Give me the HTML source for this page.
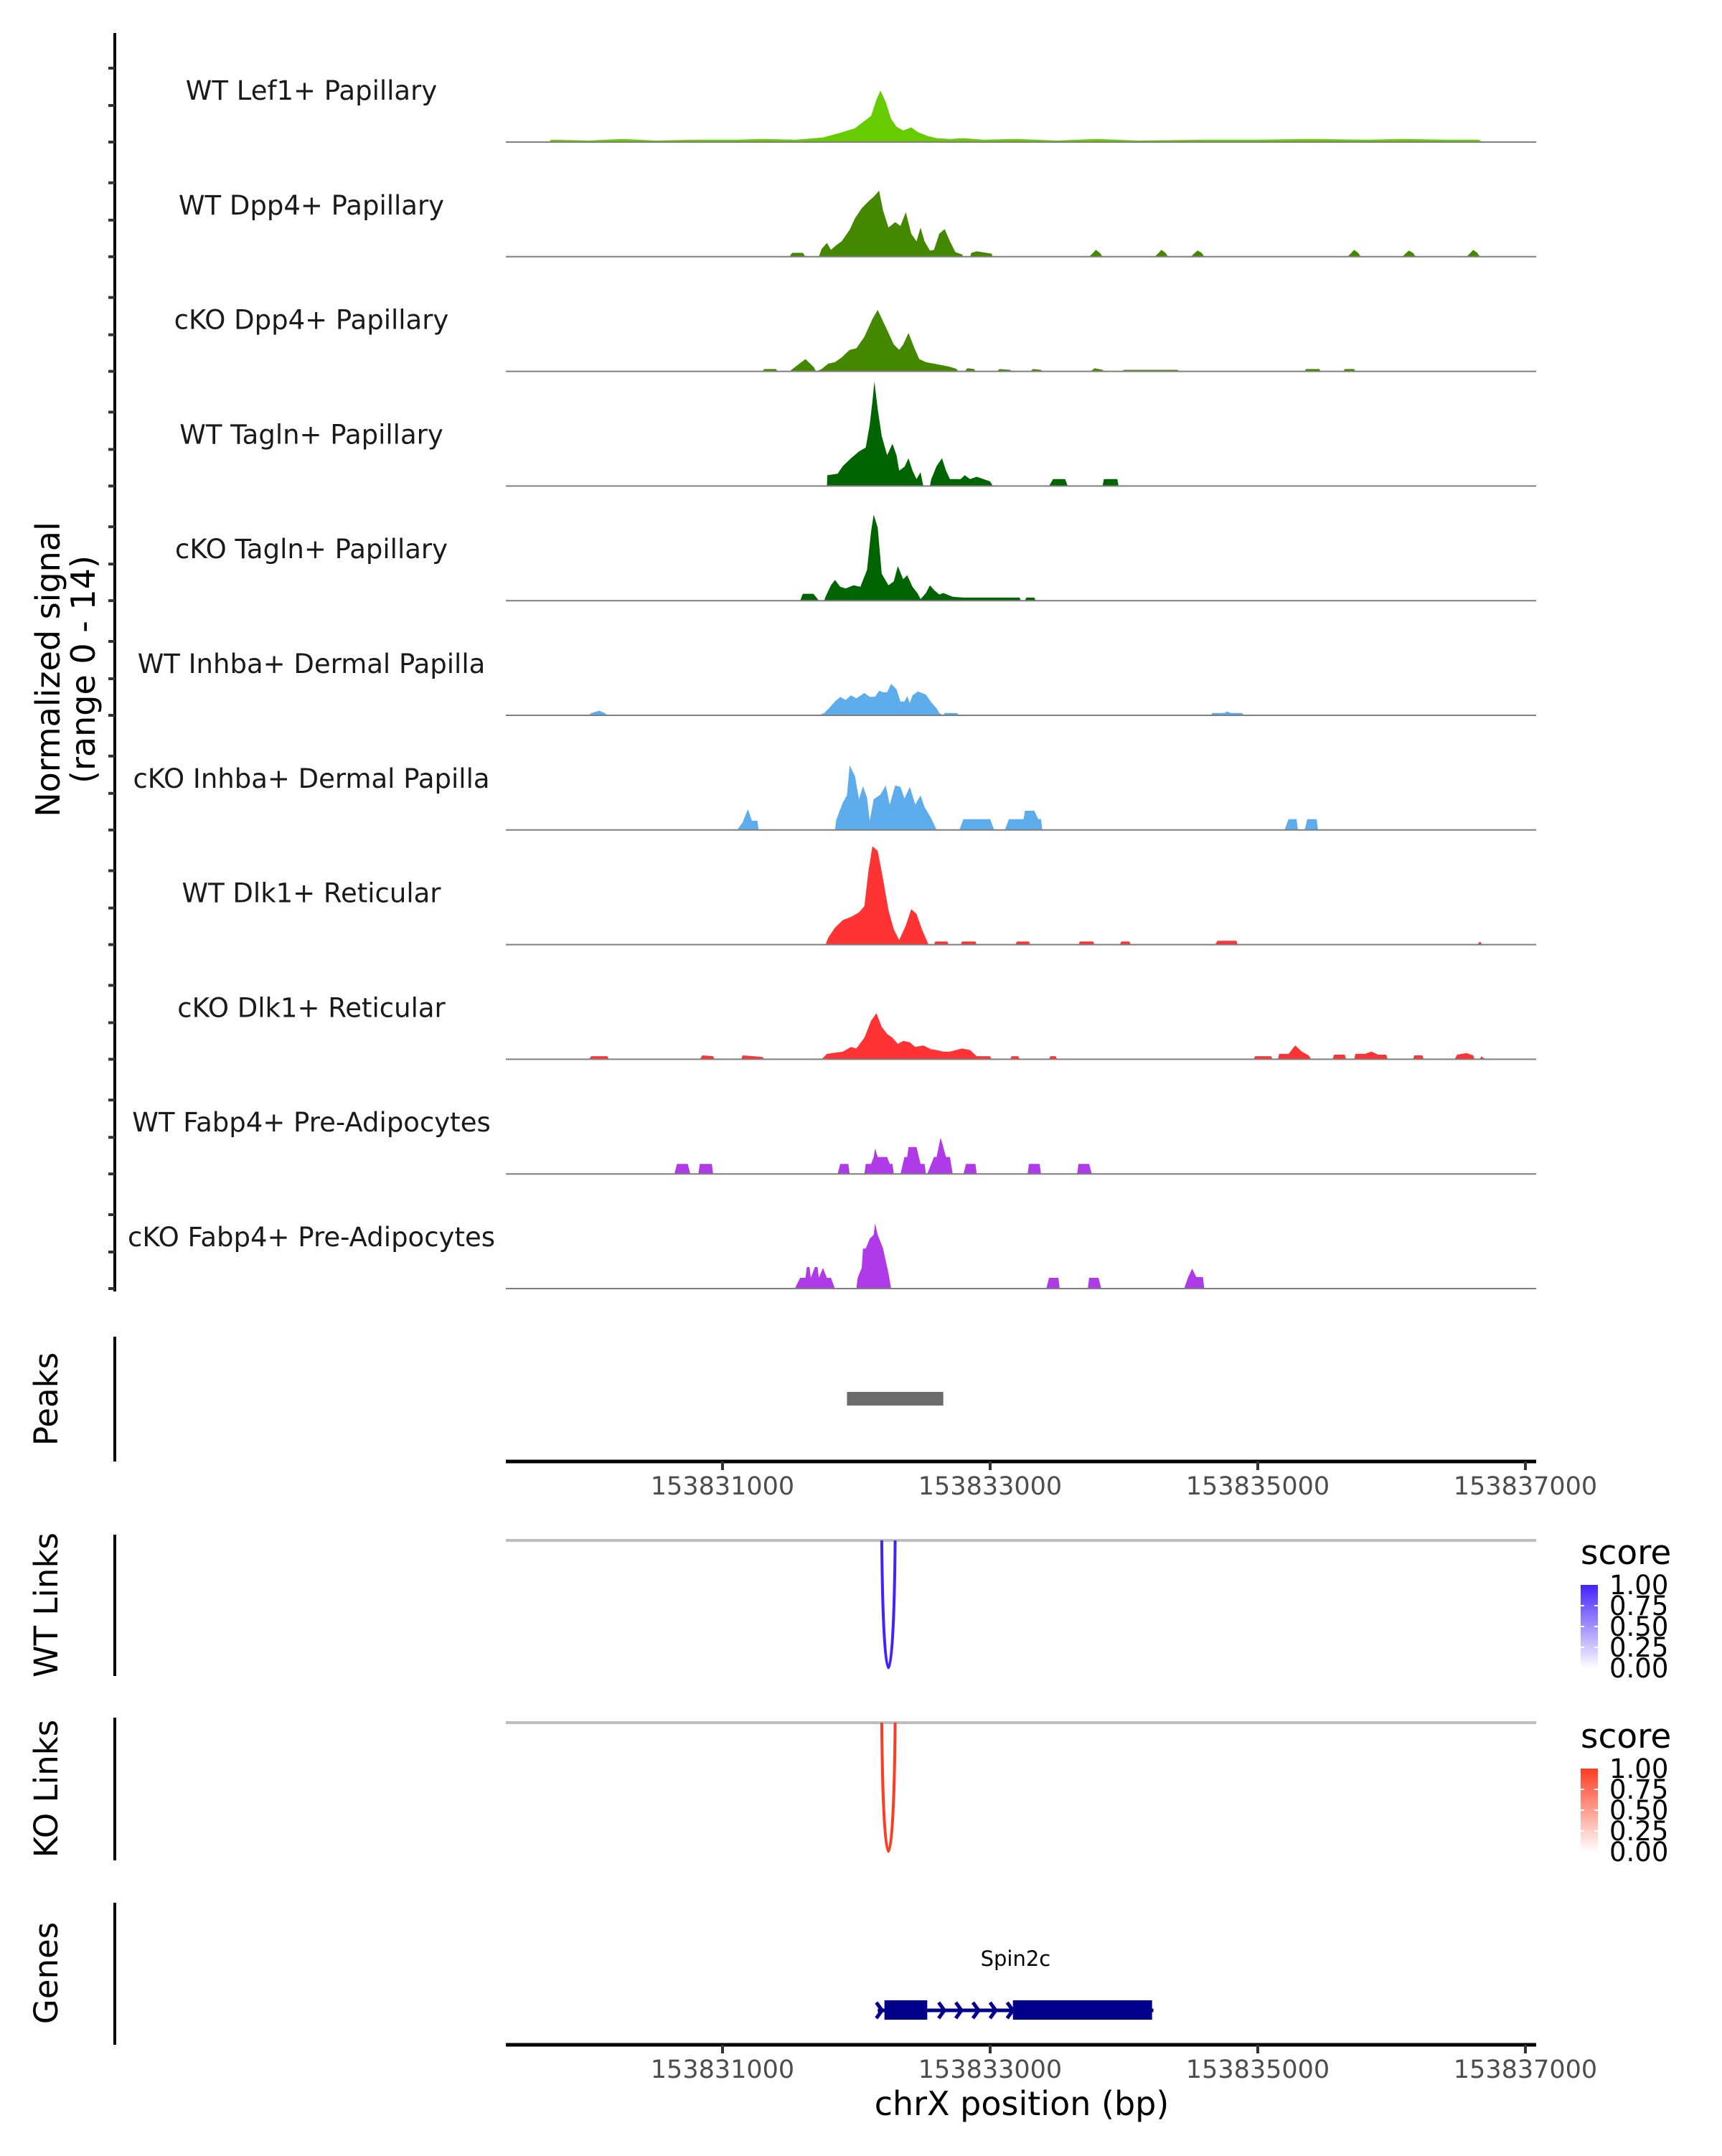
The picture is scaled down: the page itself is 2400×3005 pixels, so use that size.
<!DOCTYPE html>
<html><head><meta charset="utf-8"><style>
body{margin:0;background:#fff}
svg text{font-family:"DejaVu Sans","Liberation Sans",sans-serif}
</style></head><body>
<svg id="fig" width="2400" height="3000" viewBox="0 0 2400 3000" xmlns="http://www.w3.org/2000/svg">
<rect width="2400" height="3000" fill="#fff"/>
<g id="tracks"></g>
<g id="annot"></g>
</svg>
<script>
// ---- data ----
const trackNames = ["WT Lef1+ Papillary","WT Dpp4+ Papillary","cKO Dpp4+ Papillary","WT Tagln+ Papillary","cKO Tagln+ Papillary","WT Inhba+ Dermal Papilla","cKO Inhba+ Dermal Papilla","WT Dlk1+ Reticular","cKO Dlk1+ Reticular","WT Fabp4+ Pre-Adipocytes","cKO Fabp4+ Pre-Adipocytes"];
const trackColors = ["#66CC00","#448800","#448800","#006400","#006400","#5DADEC","#5DADEC","#FF3333","#FF3333","#AE3AE8","#AE3AE8"];
const xTicks = [153831000,153833000,153835000,153837000];
const legendTicks = [1.00,0.75,0.50,0.25,0.00];

const covWTLef1 = [[153829700,0],[153829720,0.3],[153830000,0.2],[153830250,0.4],[153830500,0.2],[153830800,0.3],[153831100,0.3],[153831300,0.4],[153831550,0.3],[153831750,0.6],[153831880,1.2],[153831990,1.8],[153832050,2.6],[153832110,3.4],[153832150,5.5],[153832180,6.7],[153832220,5.2],[153832260,3.0],[153832300,2.0],[153832350,1.5],[153832410,1.9],[153832460,1.3],[153832530,0.8],[153832600,0.5],[153832700,0.4],[153832800,0.5],[153832950,0.3],[153833200,0.4],[153833500,0.2],[153833800,0.4],[153834100,0.2],[153834600,0.3],[153835000,0.3],[153835400,0.4],[153835800,0.3],[153836100,0.4],[153836400,0.3],[153836650,0.3],[153836680,0]];
const covWTDpp4 = [[153831500,0],[153831520,0.5],[153831600,0.5],[153831620,0],[153831720,0],[153831740,1.0],[153831780,1.8],[153831810,0.9],[153831850,1.5],[153831890,2.0],[153831950,3.5],[153831990,5.0],[153832040,6.3],[153832090,7.2],[153832130,7.8],[153832170,8.6],[153832200,6.0],[153832240,3.8],[153832290,4.5],[153832330,4.0],[153832370,5.8],[153832410,3.0],[153832450,2.0],[153832480,3.8],[153832510,2.0],[153832550,0.8],[153832580,0.9],[153832620,3.0],[153832660,3.6],[153832700,2.0],[153832740,0.6],[153832790,0.3],[153832800,0],[153832850,0],[153832860,0.5],[153832900,0.7],[153833010,0.4],[153833020,0],[153833740,0],[153833770,0.5],[153833790,0.9],[153833820,0.5],[153833840,0],[153834230,0],[153834260,0.5],[153834280,0.9],[153834310,0.5],[153834330,0],[153834500,0],[153834530,0.5],[153834550,0.8],[153834580,0.5],[153834600,0],[153835670,0],[153835700,0.5],[153835720,0.9],[153835750,0.5],[153835770,0],[153836080,0],[153836110,0.5],[153836130,0.8],[153836160,0.5],[153836180,0],[153836560,0],[153836590,0.5],[153836610,0.9],[153836640,0.5],[153836660,0]];
const covKODpp4 = [[153831300,0],[153831310,0.3],[153831400,0.3],[153831410,0],[153831500,0],[153831560,0.8],[153831620,1.6],[153831680,0.6],[153831700,0],[153831740,0.3],[153831790,1.0],[153831840,1.2],[153831890,1.8],[153831950,2.8],[153832000,3.0],[153832060,4.5],[153832120,6.8],[153832160,8.0],[153832200,6.5],[153832240,5.0],[153832280,3.5],[153832320,2.8],[153832350,3.5],[153832390,5.0],[153832430,3.2],[153832470,1.6],[153832520,1.2],[153832580,1.0],[153832640,0.8],[153832700,0.6],[153832750,0.3],[153832760,0],[153832810,0],[153832830,0.4],[153832880,0.3],[153832890,0],[153833050,0],[153833070,0.3],[153833150,0.2],[153833160,0],[153833300,0],[153833320,0.3],[153833380,0.2],[153833390,0],[153833750,0],[153833780,0.4],[153833840,0.2],[153833850,0],[153833980,0],[153834000,0.2],[153834400,0.2],[153834410,0],[153835350,0],[153835360,0.3],[153835460,0.3],[153835470,0],[153835640,0],[153835650,0.3],[153835720,0.3],[153835730,0]];
const covWTTagln = [[153831780,0],[153831783,1.4],[153831860,1.6],[153831900,2.6],[153831960,3.6],[153832020,4.5],[153832070,5.0],[153832100,8.0],[153832120,11.0],[153832135,13.6],[153832160,10.0],[153832190,6.5],[153832230,4.0],[153832270,5.5],[153832300,4.0],[153832320,2.0],[153832360,2.5],[153832390,3.6],[153832420,2.0],[153832450,0.9],[153832480,1.8],[153832500,0],[153832550,0],[153832560,0.9],[153832600,2.6],[153832640,3.6],[153832670,2.0],[153832700,0.9],[153832780,0.9],[153832810,1.4],[153832850,0.9],[153832900,1.2],[153833000,0.6],[153833020,0],[153833440,0],[153833470,0.9],[153833560,0.9],[153833580,0],[153833840,0],[153833850,0.9],[153833950,0.9],[153833960,0]];
const covKOTagln = [[153831580,0],[153831600,0.9],[153831680,0.9],[153831720,0],[153831760,0],[153831770,0.5],[153831810,2.0],[153831840,2.7],[153831880,1.8],[153831920,1.6],[153831980,2.0],[153832030,1.8],[153832080,4.0],[153832110,9.0],[153832130,11.2],[153832160,9.5],[153832190,3.5],[153832240,2.0],[153832280,2.5],[153832310,4.5],[153832350,2.8],[153832380,3.3],[153832420,1.8],[153832460,0.9],[153832480,0.2],[153832520,1.0],[153832550,2.0],[153832580,1.4],[153832620,0.8],[153832650,1.0],[153832720,0.5],[153832800,0.4],[153833000,0.4],[153833220,0.4],[153833230,0],[153833260,0],[153833270,0.4],[153833330,0.4],[153833340,0]];
const covWTInhba = [[153830000,0],[153830020,0.3],[153830080,0.6],[153830120,0.3],[153830140,0],[153831720,0],[153831760,0.3],[153831800,1.0],[153831840,1.8],[153831880,2.4],[153831920,2.0],[153831960,2.6],[153832000,2.2],[153832060,2.9],[153832100,2.4],[153832140,2.4],[153832170,3.2],[153832200,3.0],[153832230,3.0],[153832260,4.1],[153832300,3.4],[153832330,1.8],[153832360,1.8],[153832380,2.5],[153832400,1.6],[153832420,2.6],[153832460,3.1],[153832520,2.7],[153832560,1.7],[153832600,0.9],[153832620,0.3],[153832650,0],[153832660,0.3],[153832750,0.3],[153832770,0],[153834650,0],[153834660,0.3],[153834750,0.3],[153834770,0.5],[153834800,0.3],[153834880,0.3],[153834900,0]];
const covKOInhba = [[153831110,0],[153831150,1.0],[153831190,2.7],[153831220,1.2],[153831260,1.2],[153831270,0],[153831840,0],[153831850,1.3],[153831900,3.6],[153831930,4.5],[153831950,8.4],[153831990,7.0],[153832020,4.0],[153832050,5.7],[153832080,4.2],[153832100,1.2],[153832130,4.0],[153832180,4.6],[153832220,5.8],[153832250,3.3],[153832290,5.8],[153832330,5.6],[153832360,4.1],[153832400,5.6],[153832440,3.3],[153832480,4.5],[153832510,3.0],[153832560,1.5],[153832600,0],[153832770,0],[153832800,1.4],[153833000,1.4],[153833030,0],[153833110,0],[153833140,1.4],[153833250,1.4],[153833260,2.5],[153833330,2.5],[153833360,1.4],[153833380,1.4],[153833390,0],[153835200,0],[153835230,1.4],[153835290,1.4],[153835300,0],[153835350,0],[153835370,1.4],[153835440,1.4],[153835450,0]];
const covWTDlk1 = [[153831770,0],[153831790,0.9],[153831840,2.2],[153831900,3.2],[153831960,3.6],[153832020,4.2],[153832060,5.0],[153832090,9.5],[153832120,12.8],[153832160,12.2],[153832200,8.5],[153832240,4.5],[153832280,2.0],[153832320,0.6],[153832370,2.5],[153832410,4.6],[153832450,4.0],[153832490,2.0],[153832530,0.4],[153832540,0],[153832580,0],[153832590,0.4],[153832680,0.4],[153832690,0],[153832780,0],[153832790,0.4],[153832890,0.4],[153832900,0],[153833190,0],[153833200,0.4],[153833290,0.4],[153833300,0],[153833660,0],[153833670,0.4],[153833770,0.4],[153833780,0],[153833970,0],[153833980,0.4],[153834040,0.4],[153834050,0],[153834680,0],[153834700,0.5],[153834840,0.5],[153834850,0],[153836640,0],[153836660,0.4],[153836680,0]];
const covKODlk1 = [[153830000,0],[153830020,0.4],[153830140,0.4],[153830150,0],[153830830,0],[153830850,0.5],[153830930,0.4],[153830940,0],[153831140,0],[153831150,0.5],[153831230,0.4],[153831300,0.3],[153831310,0],[153831740,0],[153831780,0.7],[153831900,1.0],[153831960,1.6],[153832000,1.4],[153832060,2.8],[153832110,5.0],[153832150,6.0],[153832190,4.2],[153832230,3.3],[153832270,2.8],[153832310,2.0],[153832350,2.4],[153832400,2.2],[153832440,1.6],[153832500,1.8],[153832560,1.3],[153832600,1.2],[153832650,1.0],[153832700,1.0],[153832790,1.4],[153832850,1.2],[153832900,0.4],[153833000,0.4],[153833010,0],[153833150,0],[153833160,0.4],[153833210,0.4],[153833220,0],[153833440,0],[153833450,0.4],[153833490,0.4],[153833500,0],[153834970,0],[153834980,0.4],[153835100,0.4],[153835110,0],[153835150,0],[153835160,0.7],[153835230,0.7],[153835280,1.8],[153835330,1.0],[153835380,0.5],[153835400,0],[153835560,0],[153835570,0.6],[153835650,0.6],[153835660,0],[153835720,0],[153835730,0.7],[153835800,0.7],[153835850,1.0],[153835900,0.6],[153835960,0.6],[153835970,0],[153836160,0],[153836170,0.5],[153836230,0.5],[153836240,0],[153836470,0],[153836490,0.6],[153836560,0.8],[153836610,0.5],[153836620,0],[153836660,0],[153836670,0.4],[153836700,0]];
const covWTFabp4 = [[153830640,0],[153830660,1.3],[153830740,1.3],[153830760,0],[153830820,0],[153830830,1.3],[153830920,1.3],[153830930,0],[153831860,0],[153831880,1.3],[153831940,1.3],[153831950,0],[153832060,0],[153832070,1.3],[153832110,1.3],[153832130,2.2],[153832140,3.3],[153832160,2.2],[153832230,2.2],[153832250,1.3],[153832270,1.3],[153832280,0],[153832330,0],[153832360,2.2],[153832380,2.2],[153832390,3.5],[153832450,3.5],[153832480,1.3],[153832510,1.3],[153832520,0],[153832530,0],[153832560,1.3],[153832580,2.2],[153832600,2.2],[153832620,3.9],[153832630,4.7],[153832650,3.5],[153832670,2.2],[153832700,2.2],[153832720,0],[153832800,0],[153832820,1.3],[153832890,1.3],[153832900,0],[153833280,0],[153833290,1.3],[153833370,1.3],[153833380,0],[153833650,0],[153833660,1.3],[153833740,1.3],[153833760,0]];
const covKOFabp4 = [[153831540,0],[153831580,1.4],[153831620,1.4],[153831630,2.8],[153831650,2.8],[153831660,1.4],[153831690,2.8],[153831710,2.8],[153831720,1.4],[153831750,2.7],[153831780,1.4],[153831810,1.4],[153831840,0],[153832000,0],[153832010,1.4],[153832040,2.7],[153832050,5.2],[153832070,5.2],[153832100,6.5],[153832130,7.0],[153832140,8.5],[153832160,7.0],[153832200,5.2],[153832240,2.0],[153832260,0],[153833420,0],[153833440,1.4],[153833510,1.4],[153833520,0],[153833730,0],[153833740,1.4],[153833810,1.4],[153833830,0],[153834450,0],[153834480,1.5],[153834510,2.6],[153834540,1.5],[153834590,1.5],[153834600,0]];
const coverage = [covWTLef1,covWTDpp4,covKODpp4,covWTTagln,covKOTagln,covWTInhba,covKOInhba,covWTDlk1,covKODlk1,covWTFabp4,covKOFabp4];
const peakRegions = [[153831930,153832650]];
const wtLinks = [[153832190,153832290,1.0]];
const koLinks = [[153832190,153832290,1.0]];
const geneName = "Spin2c";
const geneSpan = [153832160,153834220];
const geneExons = [[153832210,153832530],[153833170,153834210]];

// ---- scales ----
const NS = "http://www.w3.org/2000/svg";
const X0 = 1007, BP0 = 153831000, PXPERBP = 373/2000;
function xs(bp){ return X0 + (bp - BP0) * PXPERBP; }
const PLOT_L = 705, PLOT_R = 2141;
const BASE0 = 198, STEP = 159.8, VMAX = 14, HMAX = 150;
function ys(v, base){ return base - v / VMAX * HMAX; }
function el(tag, attrs, parent){ const e=document.createElementNS(NS,tag); for(const k in attrs) e.setAttribute(k,attrs[k]); parent.appendChild(e); return e; }

const tracks = document.getElementById('tracks');
const annot = document.getElementById('annot');

let ax = el('line',{x1:160,y1:46,x2:160,y2:1800,stroke:'#000','stroke-width':4},tracks);



trackNames.forEach((name,i)=>{
  const base = BASE0 + STEP*i;
  const g = el('g',{},tracks);
  
  
  [0,51,103].forEach(o=>{
    const t = el('line',{x1:151,x2:160,y1:base-o,y2:base-o,stroke:'#333','stroke-width':4},g);
    
    
  });
  const lab = el('text',{x:434,y:base-59,'font-size':37,'text-anchor':'middle',fill:'#1a1a1a'},g);
  lab.textContent = name;
  
  
  const pts = coverage[i];
  let d = 'M'+xs(pts[0][0]).toFixed(1)+','+base;
  pts.forEach(p=>{ d += 'L'+xs(p[0]).toFixed(1)+','+ys(p[1],base).toFixed(1); });
  d += 'L'+xs(pts[pts.length-1][0]).toFixed(1)+','+base+'Z';
  const area = el('path',{d:d,fill:trackColors[i]},g);
  
  
  const bl = el('line',{x1:PLOT_L,x2:PLOT_R,y1:base,y2:base,stroke:'#7f7f7f','stroke-width':2},g);
  
  
});

const yt = el('text',{transform:'translate(83,933) rotate(-90)','font-size':46,'text-anchor':'middle',fill:'#000'},tracks);
yt.textContent='Normalized signal';


const yt2 = el('text',{transform:'translate(132,933) rotate(-90)','font-size':46,'text-anchor':'middle',fill:'#000'},tracks);
yt2.textContent='(range 0 - 14)';



function sideTitle(txt, cy, y1, y2, nm){
  const t = el('text',{transform:'translate(80,'+cy+') rotate(-90)','font-size':45,'text-anchor':'middle',fill:'#000'},annot);
  t.textContent = txt;
  
  
  const l = el('line',{x1:160,x2:160,y1:y1,y2:y2,stroke:'#000','stroke-width':4},annot);
  
  
}
function xAxis(y, nm){
  const g = el('g',{},annot);
  
  
  el('line',{x1:PLOT_L,x2:PLOT_R,y1:y,y2:y,stroke:'#000','stroke-width':5},g);
  xTicks.forEach(v=>{
    const x = xs(v);
    el('line',{x1:x,x2:x,y1:y,y2:y+12,stroke:'#333','stroke-width':4},g);
    const t = el('text',{x:x,y:y+46,'font-size':35,'text-anchor':'middle',fill:'#4d4d4d'},g);
    t.textContent = String(v);
    
    
  });
}

sideTitle('Peaks',1950,1863,2037,'peaks');
peakRegions.forEach(p=>{
  const r = el('rect',{x:xs(p[0]),y:1940,width:xs(p[1])-xs(p[0]),height:19,fill:'#6b6b6b'},annot);
  
  
});
xAxis(2037,'peaks-x-axis');

function links(data, top, bottom, color, nm, legY){
  const g = el('g',{},annot);
  
  
  el('line',{x1:PLOT_L,x2:PLOT_R,y1:top,y2:top,stroke:'#bebebe','stroke-width':4},g);
  data.forEach(l=>{
    const a = xs(l[0]), b = xs(l[1]), h = bottom-top;
    const p = el('path',{d:`M${a},${top} C${a+2},${top+h*1.3} ${b-2},${top+h*1.3} ${b},${top}`,fill:'none',stroke:color,'stroke-width':4},g);
    
    
  });
  const lg = el('g',{},annot);
  
  
  const st = el('text',{x:2203,y:legY,'font-size':47,fill:'#000'},lg);
  st.textContent='score';
  const gid = 'grad-'+nm;
  const defs = el('defs',{},lg);
  const gr = el('linearGradient',{id:gid,x1:0,y1:1,x2:0,y2:0},defs);
  el('stop',{offset:0,'stop-color':'#fff'},gr);
  el('stop',{offset:1,'stop-color':color},gr);
  const bt = legY+29, bb = bt+116;
  el('rect',{x:2203,y:bt,width:24,height:bb-bt,fill:`url(#${gid})`},lg);
  legendTicks.forEach(v=>{
    const y = bb - v*(bb-bt);
    if(v>0 && v<1){ el('line',{x1:2203,x2:2208,y1:y,y2:y,stroke:'#fff','stroke-width':2},lg); el('line',{x1:2222,x2:2227,y1:y,y2:y,stroke:'#fff','stroke-width':2},lg); }
    const t = el('text',{x:2243,y:y+13,'font-size':37,fill:'#000'},lg);
    t.textContent = v.toFixed(2);
  });
}
sideTitle('WT Links',2237,2139,2336,'wt-links');
links(wtLinks,2147,2329,'#4422FF','wt-links',2180);
sideTitle('KO Links',2493,2394,2593,'ko-links');
links(koLinks,2401,2585,'#FF3B22','ko-links',2436);

sideTitle('Genes',2750,2652,2850,'genes');
const gg = el('g',{},annot);


const gl = el('text',{x:(xs(geneSpan[0])+xs(geneSpan[1]))/2,y:2740,'font-size':29,'text-anchor':'middle',fill:'#000'},gg);
gl.textContent = geneName;


el('line',{x1:xs(geneSpan[0]),x2:xs(geneSpan[1]),y1:2802,y2:2802,stroke:'#00008B','stroke-width':5},gg);
geneExons.forEach(e=>{
  const r = el('rect',{x:xs(e[0]),y:2788,width:xs(e[1])-xs(e[0]),height:27,fill:'#00008B'},gg);
  
  
});
const iStart = xs(geneExons[0][1]), iEnd = xs(geneExons[1][0]);
for(let k=0;k<6;k++){
  const x = (k===0? xs(geneSpan[0])+6 : iStart + (iEnd-iStart)*(k/5)) ;
  el('path',{d:`M${x-8},${2791} L${x},${2802} L${x-8},${2813}`,fill:'none',stroke:'#00008B','stroke-width':5},gg);
}
xAxis(2850,'genes-x-axis');
const xt = el('text',{x:1424,y:2948,'font-size':46,'text-anchor':'middle',fill:'#000'},annot);
xt.textContent='chrX position (bp)';


</script>
</body></html>
